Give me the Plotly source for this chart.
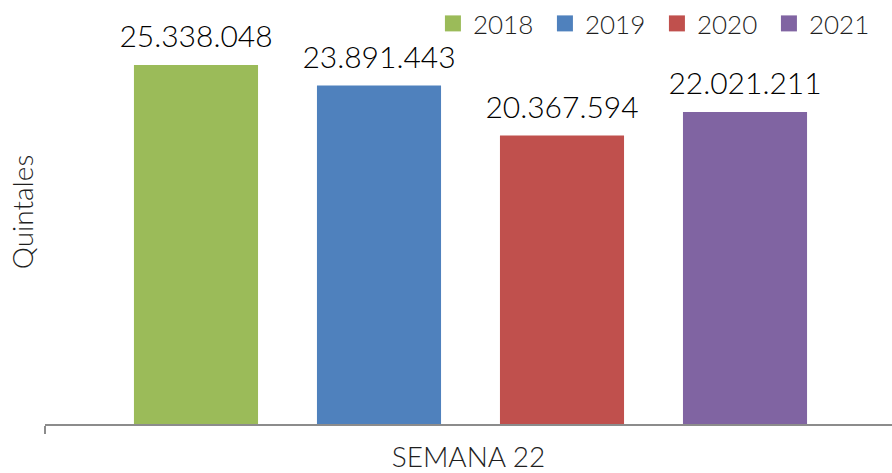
import plotly.graph_objects as go

categories = ["SEMANA 22"]
years = ["2018", "2019", "2020", "2021"]
values = [25338048, 23891443, 20367594, 22021211]
colors = ["#9BBB59", "#4F81BD", "#C0504D", "#8064A2"]

FONT = "Lato"
TXT = "#1F1F1F"
BARGAP = 0.1398

fig = go.Figure()
for yr, v, c in zip(years, values, colors):
    fig.add_trace(go.Bar(
        name=yr, x=categories, y=[v], marker=dict(color=c, line=dict(width=0)),
        offsetgroup=yr, showlegend=False,
    ))
# value labels above the bars (grouped like the bars)
for yr, v in zip(years, values):
    fig.add_trace(go.Scatter(
        name=yr, x=categories, y=[v], mode="markers+text", offsetgroup=yr,
        marker=dict(size=15, opacity=0, color="white"),
        texttemplate="%{y:,.0f}", textposition="top center", cliponaxis=False,
        textfont=dict(family=FONT, size=30, color="#000000", weight=300),
        showlegend=False, hoverinfo="skip",
    ))
# legend entries with larger square symbols
for yr, c in zip(years, colors):
    fig.add_trace(go.Scatter(
        name=yr, x=[None], y=[None], mode="markers", offsetgroup=yr,
        marker=dict(symbol="square", size=16, color=c), showlegend=True,
    ))

fig.update_layout(
    width=892, height=473,
    margin=dict(l=45, r=0, t=0, b=49),
    paper_bgcolor="white", plot_bgcolor="white",
    separators=",.",
    barmode="group", bargap=BARGAP, bargroupgap=0.322,
    scattermode="group", scattergap=BARGAP,
    font=dict(family=FONT, color=TXT, weight=300),
    legend=dict(orientation="h", x=0.458, xanchor="left", y=1.0, yanchor="top",
                font=dict(family=FONT, size=26, color=TXT, weight=300),
                entrywidth=67, entrywidthmode="pixels",
                traceorder="normal", bgcolor="rgba(0,0,0,0)"),
    showlegend=True,
)
fig.update_xaxes(
    automargin=False, range=[-0.5, 0.4953],
    showline=True, linecolor="#8C8C8C", linewidth=1.5,
    ticks="outside", tickson="boundaries", ticklen=8, tickcolor="#8C8C8C", tickwidth=1.5,
    showticklabels=False, showgrid=False,
    title=dict(text="SEMANA 22", font=dict(family=FONT, size=28, color=TXT, weight=300), standoff=24),
)
fig.update_yaxes(
    automargin=False,
    range=[0, 29.93e6], showline=False, showgrid=False, zeroline=False,
    showticklabels=False, ticks="",
    title=dict(text="Quintales", font=dict(family=FONT, size=28, color=TXT, weight=300), standoff=2),
)

fig.write_html("out.html", config={"displayModeBar": False},
               post_script="document.body.style.margin='0';")
